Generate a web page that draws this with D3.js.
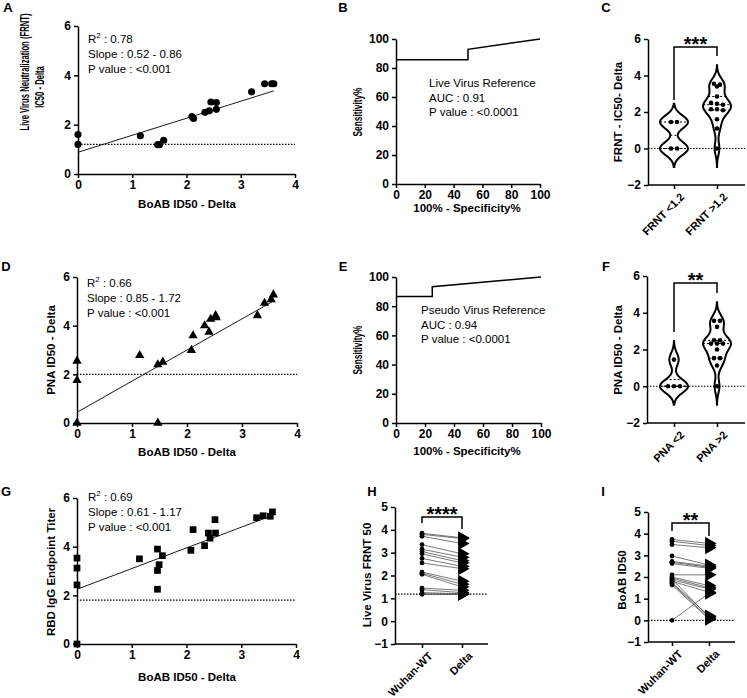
<!DOCTYPE html>
<html lang="en">
<head>
<meta charset="UTF-8">
<title>BoAB ID50 vs reference assays - Delta</title>
<script src="https://d3js.org/d3.v7.min.js"></script>
<style>
  body { margin: 0; background: #fff; }
  svg text { font-family: "Liberation Sans", Arial, sans-serif; fill: #000; }
  .tick text { font-size: 12px; font-weight: bold; }
  .axis path, .axis line { stroke: #000; stroke-width: 1.5px; }
  .title { font-size: 11.5px; font-weight: bold; }
  .note { font-size: 11.5px; }
  .letter { font-size: 13px; font-weight: bold; }
  .stars { font-size: 20px; font-weight: bold; }
</style>
</head>
<body>
<svg id="fig" width="747" height="698"></svg>
<script>
// ---- data ----
// A: BoAB ID50 vs live virus FRNT IC50
const aBoab = [0, 0, 1.15, 1.47, 1.5, 1.58, 2.1, 2.13, 2.34, 2.42, 2.45, 2.55, 2.55, 3.2, 3.44, 3.57, 3.61];
const aFrnt = [1.6, 1.2, 1.55, 1.19, 1.19, 1.37, 2.33, 2.25, 2.5, 2.56, 2.92, 2.9, 2.62, 3.33, 3.66, 3.66, 3.66];
const aFit = [0.88, 0.69];   // intercept, slope
const aCut = 1.2;
const aNotes = ["0.78", "Slope : 0.52 - 0.86", "P value : <0.001"];

// B: ROC, live virus reference
const bSpec = [0, 50, 50, 100];
const bSens = [85.7, 85.7, 92.9, 100];
const bNotes = ["Live Virus Reference", "AUC : 0.91", "P value : <0.0001"];

// C: violins
const cCats = ["FRNT <1.2", "FRNT >1.2"];
const cLow = [0, 0, 1.45, 1.45];
const cHigh = [3.55, 3.5, 3.4, 2.85, 2.5, 2.45, 2.4, 2.15, 2.15, 2.1, 1.6, 1.1, 0];

// D: BoAB ID50 vs PNA ID50
const dBoab = [0, 0, 0, 1.14, 1.47, 1.47, 1.56, 2.08, 2.11, 2.32, 2.4, 2.43, 2.52, 2.53, 3.28, 3.41, 3.53, 3.57];
const dPna = [2.55, 1.75, 0, 2.78, 2.4, 0, 2.5, 2.99, 3.59, 4.0, 3.74, 4.27, 4.42, 4.33, 4.42, 4.93, 5.07, 5.27];
const dFit = [0.44, 1.28];
const dCut = 2;
const dNotes = ["0.66", "Slope : 0.85 - 1.72", "P value : <0.001"];

// E: ROC, pseudo virus reference
const eSpec = [0, 25, 25, 100];
const eSens = [86.7, 86.7, 93.3, 100];
const eNotes = ["Pseudo Virus Reference", "AUC : 0.94", "P value : <0.0001"];

// F: violins
const fCats = ["PNA <2", "PNA >2"];
const fLow = [0, 0, 0, 1.45];
const fHigh = [3.56, 3.56, 3.23, 2.5, 2.5, 2.32, 2.32, 2.32, 2.0, 1.53, 1.53, 1.13, 0];

// G: BoAB ID50 vs RBD IgG endpoint titer
const gBoab = [0, 0, 0, 0, 1.14, 1.47, 1.47, 1.47, 1.5, 1.56, 2.08, 2.12, 2.33, 2.4, 2.43, 2.52, 2.53, 3.28, 3.4, 3.53, 3.57];
const gRbd = [3.53, 3.12, 2.43, 0, 3.5, 3.9, 3.02, 2.25, 3.26, 3.63, 3.85, 4.7, 4.04, 4.56, 4.35, 5.11, 4.56, 5.19, 5.27, 5.25, 5.43];
const gFit = [2.25, 0.85];
const gCut = 1.8;
const gNotes = ["0.69", "Slope : 0.61 - 1.17", "P value : <0.001"];

// H / I: paired Wuhan-WT vs Delta
const pairCats = ["Wuhan-WT", "Delta"];
const hWuhan = [3.85, 3.8, 3.72, 3.35, 3.15, 3.05, 2.95, 2.75, 2.55, 2.15, 2.1, 2.05, 1.45, 1.38, 1.25, 1.18, 1.18];
const hDelta = [3.65, 3.62, 3.4, 2.95, 2.8, 2.65, 2.55, 2.4, 2.3, 1.75, 1.62, 1.5, 1.35, 1.25, 1.2, 1.18, 1.18];
const hCut = 1.18;
const iWuhan = [3.73, 3.65, 3.5, 2.97, 2.72, 2.68, 2.62, 2.1, 2.0, 1.95, 1.87, 1.8, 1.74, 1.7, 1.64, 1.9, 0];
const iDelta = [3.55, 3.45, 3.35, 2.55, 2.5, 2.45, 2.4, 2.1, 1.6, 1.5, 1.45, 1.3, 0.2, 0.1, 0.05, 0.15, 1.25];

const regTicks = [0, 1, 2, 3, 4];
const regYTicks = [0, 2, 4, 6];
const rocTicks = [0, 20, 40, 60, 80, 100];
const violinTicks = [-2, 0, 2, 4, 6];
const pairTicks = [-1, 0, 1, 2, 3, 4, 5];

// ---- drawing ----
const fig = d3.select("#fig");
const fmt = d3.format("d");

function xAxis(scale, yPos, ticks) {
  return fig.append("g").attr("class", "axis")
    .attr("transform", `translate(0,${yPos})`)
    .call(d3.axisBottom(scale).tickValues(ticks).tickFormat(fmt)
      .tickSize(4).tickSizeOuter(0).tickPadding(2));
}

function yAxis(scale, xPos, ticks) {
  return fig.append("g").attr("class", "axis")
    .attr("transform", `translate(${xPos},0)`)
    .call(d3.axisLeft(scale).tickValues(ticks).tickFormat(fmt)
      .tickSize(4).tickSizeOuter(0).tickPadding(3));
}

function dotted(x0, x1, yPos) {
  fig.append("line").attr("x1", x0).attr("x2", x1).attr("y1", yPos).attr("y2", yPos)
    .attr("stroke", "#000").attr("stroke-width", 1.2).attr("stroke-dasharray", "1.5,1.5");
}

// rotated axis title; squeeze < 1 narrows the glyphs like the original
function yTitle(txt, x, y, size, squeeze) {
  const sq = squeeze || 1;
  const t = fig.append("text").attr("class", "title")
    .attr("transform", `translate(${x},${y}) rotate(-90) scale(${sq},1)`)
    .attr("text-anchor", "middle").text(txt);
  if (size) t.style("font-size", size + "px");
}

function xTitle(txt, x, y) {
  fig.append("text").attr("class", "title").attr("x", x).attr("y", y)
    .attr("text-anchor", "middle").text(txt);
}

function letter(txt, x, y) {
  fig.append("text").attr("class", "letter").attr("x", x).attr("y", y)
    .attr("text-anchor", "middle").text(txt);
}

function regNotes(lines, x, y) {
  const t = fig.append("text").attr("class", "note").attr("x", x).attr("y", y);
  t.append("tspan").text("R");
  t.append("tspan").attr("font-size", "8px").attr("dy", -5).text("2");
  t.append("tspan").attr("dy", 5).text("  : " + lines[0]);
  lines.slice(1).forEach((s, i) => {
    fig.append("text").attr("class", "note").attr("x", x).attr("y", y + 15 * (i + 1)).text(s);
  });
}

function plainNotes(lines, x, y) {
  lines.forEach((s, i) => {
    fig.append("text").attr("class", "note").attr("x", x).attr("y", y + 14.5 * i).text(s);
  });
}

function bracket(x0, x1, top, left, right, stars) {
  fig.append("path")
    .attr("d", `M${x0},${left}V${top}H${x1}V${right}`)
    .attr("fill", "none").attr("stroke", "#000").attr("stroke-width", 1.5);
  fig.append("text").attr("class", "stars").attr("x", (x0 + x1) / 2).attr("y", top + 4)
    .attr("text-anchor", "middle").text(stars);
}

// scatter + regression panel
function regPanel(xs, ys, fit, cut, x, y, symbol, size) {
  xAxis(x, y(0), regTicks);
  yAxis(y, x(0), regYTicks);
  dotted(x(0), x(4), y(cut));
  const xEnd = d3.max(xs);
  fig.append("path")
    .datum([0, xEnd])
    .attr("d", d3.line().x(d => x(d)).y(d => y(fit[0] + fit[1] * d)))
    .attr("stroke", "#000").attr("stroke-width", 0.9);
  fig.append("g").selectAll("path").data(xs).join("path")
    .attr("transform", (d, i) => `translate(${x(d)},${y(ys[i])})`)
    .attr("d", d3.symbol(symbol, size))
    .attr("fill", "#000");
}

// ROC panel
function rocPanel(spec, sens, x, y) {
  xAxis(x, y(0), rocTicks);
  yAxis(y, x(0), rocTicks);
  fig.append("path")
    .datum(spec.map((s, i) => [s, sens[i]]))
    .attr("d", d3.line().x(d => x(d[0])).y(d => y(d[1])))
    .attr("fill", "none").attr("stroke", "#000").attr("stroke-width", 1.5);
}

// violin with quartiles and swarm of points
function violin(vals, cx, y, h) {
  const lo = d3.min(vals) - 2.8 * h, hi = d3.max(vals) + 2.8 * h;
  const dens = t => d3.mean(vals, v => Math.exp(-0.5 * ((t - v) / h) ** 2));
  const grid = d3.range(0, 101).map(i => lo + (hi - lo) * i / 100);
  const pts = grid.map(t => [t, dens(t)]);
  const w = d3.scaleLinear([0, d3.max(pts, d => d[1])], [0, 14]);
  fig.append("path").datum(pts)
    .attr("d", d3.area().curve(d3.curveBasis)
      .y(d => y(d[0])).x0(d => cx - w(d[1])).x1(d => cx + w(d[1])))
    .attr("fill", "none").attr("stroke", "#000").attr("stroke-width", 2);
  const sorted = vals.slice().sort(d3.ascending);
  [0.25, 0.5, 0.75].forEach(p => {
    const q = d3.quantile(sorted, p);
    const half = w(dens(q));
    fig.append("line").attr("x1", cx - half).attr("x2", cx + half)
      .attr("y1", y(q)).attr("y2", y(q))
      .attr("stroke", "#000").attr("stroke-width", 1).attr("stroke-dasharray", "2,2");
  });
  // group near-equal values into rows and spread them sideways
  const rows = [];
  sorted.slice().reverse().forEach(v => {
    const last = rows[rows.length - 1];
    if (last && Math.abs(last[0] - v) < 0.12) last.push(v); else rows.push([v]);
  });
  rows.forEach(r => r.forEach((v, i) => {
    fig.append("circle").attr("cx", cx + (i - (r.length - 1) / 2) * 6).attr("cy", y(v))
      .attr("r", 2.3).attr("fill", "#000");
  }));
}

function catAxis(x, yPos, x0, x1) {
  const g = fig.append("g").attr("class", "axis")
    .attr("transform", `translate(0,${yPos})`)
    .call(d3.axisBottom(x).tickSize(4).tickSizeOuter(0).tickPadding(3));
  g.select(".domain").remove();
  g.append("line").attr("x1", x0).attr("x2", x1).attr("stroke", "#000").attr("stroke-width", 1.5);
  g.selectAll(".tick text").attr("text-anchor", "end").style("font-size", "11px")
    .attr("transform", "translate(3,5) rotate(-45)").attr("dy", "0.35em");
}

function violinPanel(cats, low, high, y, x, axisX0, axisX1, h) {
  catAxis(x, y(-2), axisX0, axisX1);
  yAxis(y, axisX0, violinTicks);
  violin(low, x(cats[0]), y, h);
  violin(high, x(cats[1]), y, h);
  dotted(axisX0, axisX1, y(0));
}

function pairPanel(wuhan, delta, cut, y, x, axisX0, axisX1) {
  catAxis(x, y(-1), axisX0, axisX1);
  yAxis(y, axisX0, pairTicks);
  dotted(axisX0, axisX1, y(cut));
  fig.append("g").selectAll("line").data(wuhan).join("line")
    .attr("x1", x(pairCats[0])).attr("x2", x(pairCats[1]))
    .attr("y1", d => y(d)).attr("y2", (d, i) => y(delta[i]))
    .attr("stroke", "#555").attr("stroke-width", 0.8);
  fig.append("g").selectAll("circle").data(wuhan).join("circle")
    .attr("cx", x(pairCats[0])).attr("cy", d => y(d)).attr("r", 2.4).attr("fill", "#000");
  fig.append("g").selectAll("path").data(delta).join("path")
    .attr("transform", d => `translate(${x(pairCats[1])},${y(d)}) rotate(90)`)
    .attr("d", d3.symbol(d3.symbolTriangle, 75)).attr("fill", "#000");
}

// A
const xA = d3.scaleLinear([0, 4], [78, 295]);
const yA = d3.scaleLinear([0, 6], [174, 26]);
regPanel(aBoab, aFrnt, aFit, aCut, xA, yA, d3.symbolCircle, 40);
regNotes(aNotes, 88, 43);
yTitle("Live Virus Neutralization (FRNT)", 29, 72, 13, 0.59);
yTitle("IC50 - Delta", 44, 87, 13, 0.59);
xTitle("BoAB ID50 - Delta", 187, 208);
letter("A", 8, 12);

// B
const xB = d3.scaleLinear([0, 100], [396, 540]);
const yB = d3.scaleLinear([0, 100], [184, 39]);
rocPanel(bSpec, bSens, xB, yB);
plainNotes(bNotes, 429, 87);
yTitle("Sensitivity%", 362, 112, 13, 0.64);
xTitle("100% - Specificity%", 467, 212);
letter("B", 343, 12);

// C
const yC = d3.scaleLinear([-2, 6], [185, 39]);
const xC = d3.scalePoint(cCats, [674, 717]);
violinPanel(cCats, cLow, cHigh, yC, xC, 648, 745, 0.36);
bracket(674, 717, 47, 100, 56, "***");
yTitle("FRNT - IC50- Delta", 622, 112);
letter("C", 606, 12);

// D
const xD = d3.scaleLinear([0, 4], [77, 297]);
const yD = d3.scaleLinear([0, 6], [423, 277]);
regPanel(dBoab, dPna, dFit, dCut, xD, yD, d3.symbolTriangle, 38);
regNotes(dNotes, 87, 287);
yTitle("PNA ID50 - Delta", 55, 350);
xTitle("BoAB ID50 - Delta", 187, 456);
letter("D", 6, 271);

// E
const xE = d3.scaleLinear([0, 100], [396, 541]);
const yE = d3.scaleLinear([0, 100], [423, 277]);
rocPanel(eSpec, eSens, xE, yE);
plainNotes(eNotes, 421, 314);
yTitle("Sensitivity%", 362, 350, 13, 0.64);
xTitle("100% - Specificity%", 467, 455);
letter("E", 343, 271);

// F
const yF = d3.scaleLinear([-2, 6], [423, 276]);
const xF = d3.scalePoint(fCats, [674, 717]);
violinPanel(fCats, fLow, fHigh, yF, xF, 647, 745, 0.36);
bracket(674, 717, 283, 332, 293, "**");
yTitle("PNA ID50 - Delta", 622, 350);
letter("F", 606, 271);

// G
const xG = d3.scaleLinear([0, 4], [77, 296]);
const yG = d3.scaleLinear([0, 6], [644, 498]);
regPanel(gBoab, gRbd, gFit, gCut, xG, yG, d3.symbolSquare, 45);
regNotes(gNotes, 88, 501);
yTitle("RBD IgG Endpoint Titer", 55, 572);
xTitle("BoAB ID50 - Delta", 187, 681);
letter("G", 6, 496);

// H
const yH = d3.scaleLinear([-1, 5], [644, 507]);
const xH = d3.scalePoint(pairCats, [422, 462]);
pairPanel(hWuhan, hDelta, hCut, yH, xH, 395, 488);
bracket(422, 462, 517, 523, 529, "****");
yTitle("Live Virus FRNT 50", 371, 575);
letter("H", 372, 496);

// I
const yI = d3.scaleLinear([-1, 5], [642, 512]);
const xI = d3.scalePoint(pairCats, [672, 709]);
pairPanel(iWuhan, iDelta, 0, yI, xI, 648, 735);
bracket(672, 709, 523, 531, 536, "**");
yTitle("BoAB ID50", 626, 580);
letter("I", 603, 496);
</script>
</body>
</html>
